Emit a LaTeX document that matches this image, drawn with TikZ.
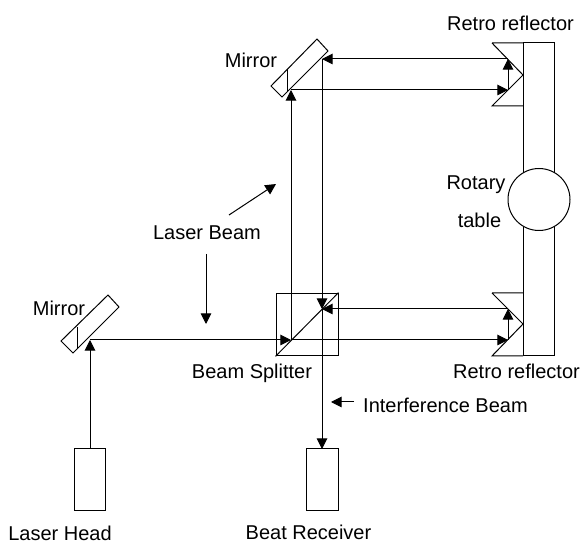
\documentclass[tikz,border=0pt]{standalone}
\usepackage{fontspec}
\setmainfont{Liberation Sans}
\usetikzlibrary{arrows.meta}
\tikzset{
  line/.style={draw=black,line width=0.75pt,line join=miter},
  beam/.style={line,-{Triangle[length=8pt,width=8pt]}},
  label/.style={font=\fontsize{15}{17}\selectfont,inner sep=0pt,anchor=base,text=black},
}
\begin{document}
\begin{tikzpicture}[x=0.75pt,y=-0.75pt]
\useasboundingbox (0,0) rectangle (583,545);
% table
\draw[line] (523,43) rectangle (554,356);
\node[circle,draw=black,line width=0.75pt,fill=white,minimum size=46.5pt,inner sep=0pt] (rot) at (539,199.5) {};
% retro reflectors
\draw[line] (492,43) -- (523,43) (492,43) -- (523,75) -- (492,106) -- (523,106);
\draw[line] (492,293) -- (523,293) (492,293) -- (523,324) -- (492,356) -- (523,356);
% mirrors
\draw[line] (317,39) -- (328,51) -- (282,97) -- (271,86) -- cycle;
\draw[line] (287,69) -- (287,92);
\draw[line] (108,295) -- (119,307) -- (73,353) -- (61,341) -- cycle;
\draw[line] (77,327) -- (77,349);
% beam splitter
\node[draw=black,line width=0.75pt,minimum width=46.5pt,minimum height=47pt,inner sep=0pt] (bs) at (307,324.5) {};
\draw[line] (bs.south west) -- (bs.north east);
% head, receiver
\node[draw=black,line width=0.75pt,minimum width=23.5pt,minimum height=46.5pt,inner sep=0pt] (head) at (90,480) {};
\node[draw=black,line width=0.75pt,minimum width=23.5pt,minimum height=46.5pt,inner sep=0pt] (recv) at (322.5,480) {};
% named beam points
\coordinate (m1) at (90,340);
\coordinate (s1) at (291,340);
\coordinate (r1a) at (508,340);
\coordinate (r1b) at (508,309);
\coordinate (s2) at (322,309);
\coordinate (m2a) at (291,90);
\coordinate (m2b) at (322,59);
\coordinate (r2a) at (508,90);
\coordinate (r2b) at (508,59);
\coordinate (rt) at (322,449);
% beams
\draw[beam] (head.north) -- (m1);
\draw[beam] (m1) -- (s1);
\draw[beam] (s1) -- (r1a);
\draw[beam] (r1a) -- (r1b);
\draw[beam] (r1b) -- (s2);
\draw[beam] (s1) -- (m2a);
\draw[beam] (m2a) -- (r2a);
\draw[beam] (r2a) -- (r2b);
\draw[beam] (r2b) -- (m2b);
\draw[beam] (m2b) -- (s2);
\draw[beam] (s2) -- (rt);
% pointers
\coordinate (pa) at (229,215); \coordinate (pb) at (276,184);
\coordinate (pc) at (206,254); \coordinate (pd) at (206,324);
\coordinate (pe) at (354,402); \coordinate (pf) at (331,402);
\draw[beam] (pa) -- (pb);
\draw[beam] (pc) -- (pd);
\draw[beam] (pe) -- (pf);
% labels
\node[label] (t1) at (510.5,31) {Retro reflector};
\node[label] (t2) at (251,68) {Mirror};
\node[label] (t3) at (476,190) {Rotary};
\node[label] (t4) at (479.5,228) {table};
\node[label] (t5) at (207,240) {Laser Beam};
\node[label] (t6) at (59,316) {Mirror};
\node[label] (t7) at (252,379) {Beam Splitter};
\node[label] (t8) at (516.5,379) {Retro reflector};
\node[label] (t9) at (445.5,413) {Interference Beam};
\node[label] (t10) at (308.5,540) {Beat Receiver};
\node[label] (t11) at (60,540.5) {Laser Head};
\end{tikzpicture}
\end{document}
